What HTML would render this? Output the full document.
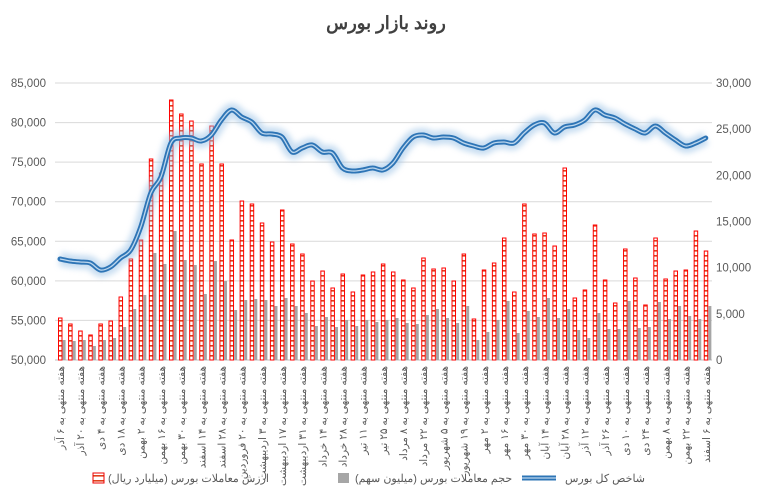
<!DOCTYPE html>
<html><head><meta charset="utf-8">
<style>
html,body{margin:0;padding:0;background:#fff;}
svg{display:block;font-family:"Liberation Sans","Noto Sans CJK SC",sans-serif;}
</style></head>
<body>
<svg id="s" width="773" height="496" viewBox="0 0 773 496" xmlns="http://www.w3.org/2000/svg">
<defs>
<pattern id="h" width="4" height="5" patternUnits="userSpaceOnUse">
<rect width="4" height="5" fill="#fff"/>
<rect x="0" y="0" width="4" height="1.6" fill="#e0401a"/>
</pattern>
<filter id="gl" x="-10%" y="-50%" width="120%" height="200%"><feGaussianBlur stdDeviation="3"/></filter>
</defs>
<rect width="773" height="496" fill="#fff"/>
<text x="386" y="29" text-anchor="middle" font-size="18" font-weight="bold" fill="#404040">روند بازار بورس</text>
<g id="grid"></g>
<g id="bars"></g>
<g id="line"></g>
<g id="xl" font-size="10.5" fill="#595959"></g>
<g font-size="11.5" fill="#595959" id="ax"></g>
<rect x="93" y="473" width="11" height="10" fill="url(#h)" stroke="#e00" stroke-width="1"/>
<text x="108" y="482" font-size="11" fill="#595959">ارزش معاملات بورس (میلیارد ریال)</text>
<rect x="338" y="473" width="11" height="10" fill="#a6a6a6"/>
<text x="355" y="482" font-size="11" fill="#595959">حجم معاملات بورس (میلیون سهم)</text>
<line x1="522" y1="478" x2="556" y2="478" stroke="#9dc3e6" stroke-width="10" opacity="0.5" filter="url(#gl)"/>
<line x1="522" y1="478" x2="556" y2="478" stroke="#2e75b6" stroke-width="5"/>
<line x1="522" y1="478" x2="556" y2="478" stroke="#bdd7ee" stroke-width="1.3"/>
<text x="565" y="482" font-size="11" fill="#595959">شاخص کل بورس</text>
</svg>
<script>
var NS="http://www.w3.org/2000/svg";
function el(p,t,a,txt){var e=document.createElementNS(NS,t);for(var k in a)e.setAttribute(k,a[k]);if(txt!=null)e.textContent=txt;p.appendChild(e);return e;}
var g=document.getElementById('grid'),ax=document.getElementById('ax');
var L=["85,000","80,000","75,000","70,000","65,000","60,000","55,000","50,000"];
for(var i=0;i<8;i++){var y=83+i*(277/7);
 el(g,'line',{x1:55,x2:712,y1:y,y2:y,stroke:i==7?'#bfbfbf':'#d9d9d9','stroke-width':1});
 el(ax,'text',{x:46,y:y+4,'text-anchor':'end'},L[i]);}
var R=["30,000","25,000","20,000","15,000","10,000","5,000","0"];
for(var i=0;i<7;i++){var y=83+i*(277/6);el(ax,'text',{x:716,y:y+4},R[i]);}
var red=[318,324,331,335,324,321,297,259,240,159,173,100,114,121,164,126,164,240,201,
204,223,242,210,244,254,281,271,288,274,292,275,272,264,272,280,288,258,269,
268,281,254,319,270,263,238,292,204,234,233,246,168,298,290,225,280,303,249,278,305,238,279,271,270,231,251];
var gr=[340,341,340,346,340,338,327,309,295,253,264,231,260,265,294,261,281,310,300,
299,300,306,298,306,313,326,317,327,320,326,320,322,320,318,323,324,315,309,318,
323,306,340,332,320,301,333,311,317,298,318,309,330,338,313,329,329,301,328,327,302,319,306,316,319,306];
var ln=[259,261,262,263,270,267,258,250,227,193,177,143,138,138,141,135,120,110,117,
122,133,134,137,152,148,145,152,153,168,171,170,168,170,163,148,137,135,138,
137,138,143,146,148,143,142,143,133,125,123,133,127,125,120,110,115,118,124,129,133,126,133,140,146,143,138];
var b=document.getElementById('bars');
function cx(i){return 60+i*10.09;}
for(var i=0;i<65;i++){var c=cx(i);
 el(b,'rect',{x:c-1.5,y:red[i],width:3.5,height:360-red[i],fill:'url(#h)',stroke:'#f00','stroke-width':1});
 el(b,'rect',{x:c+2.6,y:gr[i],width:3,height:360-gr[i],fill:'#a6a6a6'});}
var pts=ln.map(function(y,i){return [cx(i),y];});
var d="M"+pts[0][0]+","+pts[0][1];
for(var i=0;i<pts.length-1;i++){var p0=pts[Math.max(0,i-1)],p1=pts[i],p2=pts[i+1],p3=pts[Math.min(pts.length-1,i+2)];
 var c1x=p1[0]+(p2[0]-p0[0])/6,c1y=p1[1]+(p2[1]-p0[1])/6,c2x=p2[0]-(p3[0]-p1[0])/6,c2y=p2[1]-(p3[1]-p1[1])/6;
 d+=" C"+c1x+","+c1y+" "+c2x+","+c2y+" "+p2[0]+","+p2[1];}
var lg=document.getElementById('line');
el(lg,'path',{d:d,fill:'none',stroke:'#9dc3e6','stroke-width':14,opacity:0.55,filter:'url(#gl)'});
el(lg,'path',{d:d,fill:'none',stroke:'#2e75b6','stroke-width':5,'stroke-linejoin':'round','stroke-linecap':'round'});
el(lg,'path',{d:d,fill:'none',stroke:'#bdd7ee','stroke-width':1.3});
var labs=["۶ آذر","۲۰ آذر","۴ دی","۱۸ دی","۲ بهمن","۱۶ بهمن","۳۰ بهمن","۱۴ اسفند","۲۸ اسفند","۲۰ فروردین","۳ اردیبهشت","۱۷ اردیبهشت","۳۱ اردیبهشت","۱۴ خرداد","۲۸ خرداد","۱۱ تیر","۲۵ تیر","۸ مرداد","۲۲ مرداد","۵ شهریور","۱۹ شهریور","۲ مهر","۱۶ مهر","۳۰ مهر","۱۴ آبان","۲۸ آبان","۱۲ آذر","۲۶ آذر","۱۰ دی","۲۴ دی","۸ بهمن","۲۲ بهمن","۶ اسفند"];
var xl=document.getElementById('xl');
for(var j=0;j<33;j++){var x=cx(2*j)+4;
 el(xl,'text',{x:0,y:0,'text-anchor':'end',transform:'translate('+x+',366) rotate(-90)'},"هفته منتهی به "+labs[j]);}
</script>
</body></html>
